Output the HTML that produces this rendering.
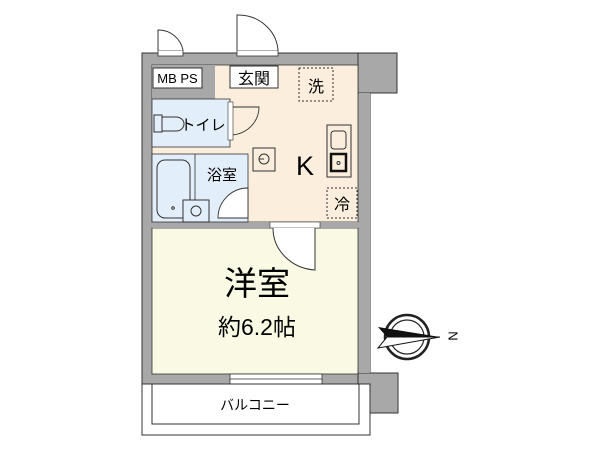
<!DOCTYPE html>
<html><head><meta charset="utf-8"><style>html,body{margin:0;padding:0;background:#fff}svg{display:block}text{font-family:"Liberation Sans","Noto Sans CJK JP",sans-serif}</style></head><body>
<svg width="600" height="450" viewBox="0 0 600 450" xmlns="http://www.w3.org/2000/svg">
<!-- walls -->
<rect x="142" y="53" width="228" height="331" fill="#a8a8a8" stroke="#333" stroke-width="1"/>
<rect x="358" y="53" width="39" height="40" fill="#a8a8a8" stroke="#333" stroke-width="1"/>
<rect x="358" y="373" width="40" height="40" fill="#a8a8a8" stroke="#333" stroke-width="1"/>
<rect x="359" y="93" width="11" height="280" fill="#a8a8a8"/>
<!-- rooms -->
<rect x="152" y="65" width="206" height="157" fill="#fbeedc" stroke="#333" stroke-width="0.8"/>
<rect x="152" y="65" width="63" height="34" fill="#a8a8a8"/>
<rect x="152" y="228" width="206" height="146" fill="#fafae4" stroke="#333" stroke-width="0.8"/>
<rect x="152" y="222" width="206" height="6" fill="#a8a8a8"/>
<rect x="152" y="99" width="78" height="48" fill="#e2eef9" stroke="#333" stroke-width="0.8"/>
<rect x="152" y="154" width="96" height="68" fill="#e2eef9" stroke="#333" stroke-width="0.8"/>
<line x1="195" y1="154" x2="195" y2="222" stroke="#333" stroke-width="0.8"/>
<!-- MB PS -->
<rect x="153" y="68" width="49" height="20" fill="#fff" stroke="#333"/>
<text x="177.5" y="83" font-size="13" text-anchor="middle">MB PS</text>
<!-- genkan -->
<rect x="230" y="66" width="48" height="22" fill="#fff" stroke="#333"/>
<text x="254" y="84" font-size="16" text-anchor="middle">玄関</text>
<!-- top doors -->
<rect x="158" y="50" width="25" height="6" fill="#fff" stroke="#333" stroke-width="0.8"/>
<path d="M158 50 V30 A25 25 0 0 1 183 50" fill="#fff" stroke="#333"/>
<rect x="237" y="50" width="41" height="6" fill="#fff" stroke="#333" stroke-width="0.8"/>
<path d="M237 50 V15 A40 38 0 0 1 278 50" fill="#fff" stroke="#333"/>
<!-- 洗 and 冷 -->
<rect x="299" y="68" width="34" height="33" fill="none" stroke="#333" stroke-dasharray="2,2"/>
<text x="316" y="92" font-size="16" text-anchor="middle">洗</text>
<rect x="327" y="188" width="30" height="30" fill="none" stroke="#333" stroke-dasharray="2,2"/>
<text x="342" y="210" font-size="16" text-anchor="middle">冷</text>
<!-- stove -->
<rect x="327" y="125" width="24" height="52" fill="#fbeedc" stroke="#333"/>
<rect x="331" y="131" width="15" height="18" rx="3" fill="none" stroke="#333"/>
<rect x="331" y="154" width="15" height="17" fill="none" stroke="#111" stroke-width="2.5"/>
<circle cx="338.5" cy="163" r="1.5" fill="none" stroke="#333"/>
<text x="305" y="175" font-size="27" text-anchor="middle">K</text>
<!-- washbasin -->
<rect x="253" y="148" width="22" height="23" fill="#fbeedc" stroke="#333"/>
<circle cx="264" cy="159" r="5" fill="none" stroke="#333"/>
<line x1="259" y1="159" x2="264" y2="159" stroke="#333"/>
<!-- toilet -->
<rect x="154" y="115" width="8" height="17" fill="none" stroke="#333"/>
<path d="M162 117 H176 A8 7 0 0 1 176 131 H162" fill="none" stroke="#333"/>
<text x="203" y="130" font-size="15" text-anchor="middle">トイレ</text>
<!-- toilet door -->
<path d="M230 135 V107 H259 A29 28 0 0 1 230 135 Z" fill="#fbeedc" stroke="#333" stroke-width="0.9"/>
<rect x="228" y="102" width="5" height="38" fill="#fff" stroke="#333" stroke-width="0.6"/>
<!-- bath -->
<rect x="157" y="160" width="33" height="58" rx="8" fill="none" stroke="#333"/>
<circle cx="173" cy="208" r="1.3" fill="none" stroke="#333"/>
<rect x="183" y="200" width="26" height="22" fill="#e2eef9" stroke="#333"/>
<circle cx="196" cy="211" r="5" fill="none" stroke="#333"/>
<text x="222" y="180" font-size="15" text-anchor="middle">浴室</text>
<path d="M248 218 V188 A30 30 0 0 0 218 218 Z" fill="#fff" stroke="#333" stroke-width="0.9"/>
<!-- room door -->
<rect x="270" y="222" width="50" height="6" fill="#fff" stroke="#333" stroke-width="0.6"/>
<path d="M273 228 A45 42 0 0 0 315 270 V228" fill="#fff" stroke="#333"/>
<text x="257" y="295" font-size="33" text-anchor="middle">洋室</text>
<text x="257" y="335" font-size="23" text-anchor="middle">約6.2帖</text>
<!-- window bottom -->
<rect x="230" y="374" width="92" height="10" fill="#fff" stroke="#333" stroke-width="0.8"/>
<line x1="230" y1="379" x2="322" y2="379" stroke="#333" stroke-width="0.8"/>
<!-- balcony -->
<rect x="142" y="384" width="228" height="51" fill="#fff" stroke="#333"/>
<rect x="152" y="384" width="207" height="40" fill="#fff" stroke="#333"/>
<text x="255" y="410" font-size="14" text-anchor="middle">バルコニー</text>
<!-- compass -->
<circle cx="407" cy="337" r="22" fill="#fff" stroke="#222" stroke-width="2.5"/>
<circle cx="407" cy="337" r="17" fill="none" stroke="#222" stroke-width="1.2"/>
<polygon points="378,327 387,337 440,337" fill="#111"/>
<polygon points="378,348 387,337 440,337" fill="#fff" stroke="#111"/>
<text x="452" y="336" font-size="13" text-anchor="middle" transform="rotate(90 452 336)" dominant-baseline="middle">N</text>
</svg>
</body></html>
